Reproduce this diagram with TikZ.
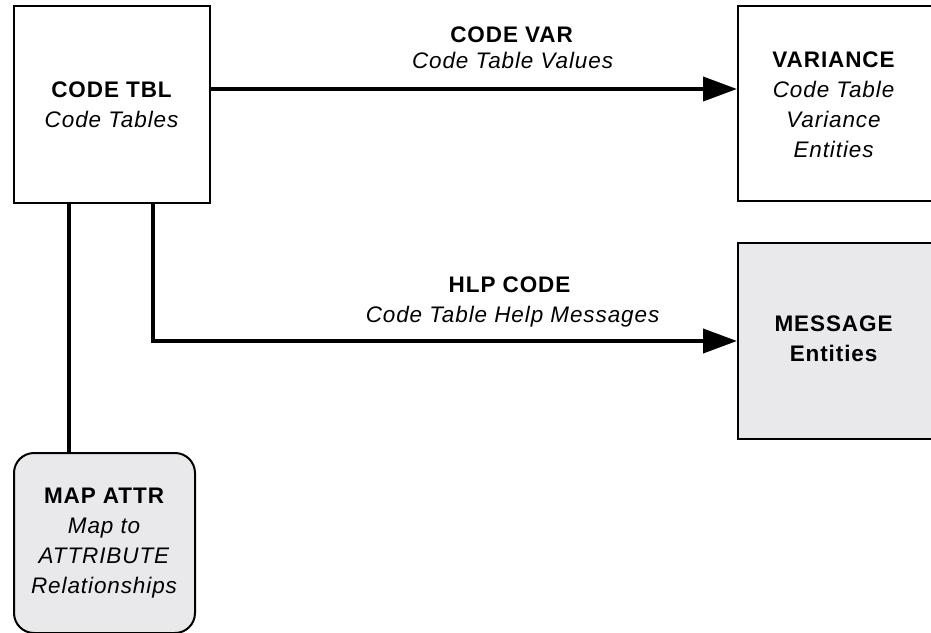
\documentclass[tikz,border=0pt]{standalone}
\usepackage{fontspec}
\setmainfont{Liberation Sans}[LetterSpace=4]
\usetikzlibrary{arrows.meta}
\definecolor{entityfill}{HTML}{E9E9EB}
\tikzset{
  entity/.style={draw=black, line width=2pt, fill=white, align=center,
    inner sep=0pt, font=\fontsize{22.5}{30}\selectfont},
  shaded/.style={entity, fill=entityfill},
  relbox/.style={shaded, rounded corners=20pt},
  caption/.style={align=center, inner sep=0pt, font=\fontsize{22.5}{30}\selectfont},
  link/.style={line width=4pt, line cap=rect},
  flow/.style={link, -{Triangle[length=34pt,width=24pt]}},
  lbl/.style={anchor=base, inner sep=0pt, font=\fontsize{22.5}{30}\selectfont}
}
\begin{document}
\begin{tikzpicture}[x=1pt, y=-1pt]
\useasboundingbox (0,0) rectangle (931,632);

% entity boxes (the two on the right run off the page edge)
\node[entity, minimum width=196pt, minimum height=197pt] (codetbl) at (112,104.5)
  {\textbf{CODE TBL}\\\textit{Code Tables}};
\node[entity, minimum width=260pt, minimum height=195pt] (varbox) at (868,103.5) {};
\node[caption] (variance) at (834,105)
  {\textbf{VARIANCE}\\\textit{Code Table}\\\textit{Variance}\\\textit{Entities}};
\node[shaded, minimum width=260pt, minimum height=196pt] (msgbox) at (868,341) {};
\node[caption] (message) at (834,339)
  {\textbf{MESSAGE}\\\textbf{Entities}};
\node[relbox, minimum width=181pt, minimum height=180pt] (mapattr) at (104.5,543)
  {\textbf{MAP ATTR}\\\textit{Map to}\\\textit{ATTRIBUTE}\\\textit{Relationships}};

% connectors
\draw[flow] (codetbl.east |- 0,89) -- (varbox.west |- 0,89);
\draw[flow] (codetbl.south -| 153,0) |- (msgbox.west);
\draw[link] (codetbl.south -| 69,0) -- (mapattr.north -| 69,0);

% connector labels
\node[lbl] (codevar) at (512,42) {\textbf{CODE VAR}};
\node[lbl] (codevardesc) at (513,68) {\textit{Code Table Values}};
\node[lbl] (hlpcode) at (510,292) {\textbf{HLP CODE}};
\node[lbl] (hlpcodedesc) at (513,322) {\textit{Code Table Help Messages}};
\end{tikzpicture}
\end{document}
